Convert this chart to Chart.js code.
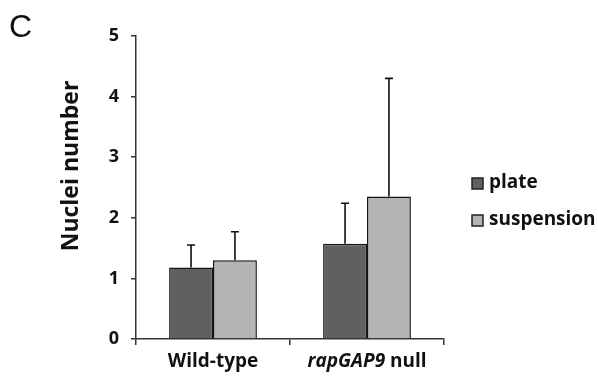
<!DOCTYPE html>
<html>
<head>
<meta charset="utf-8">
<script src="https://cdn.jsdelivr.net/npm/chart.js@4.4.0/dist/chart.umd.min.js"></script>
<style>
  html, body { margin: 0; padding: 0; background: #fff; }
  #wrap { width: 598px; height: 383px; }
</style>
</head>
<body>
<div id="wrap"><canvas id="nuclei-chart" width="598" height="383"></canvas></div>
<script>
// Values
const categories = ['Wild-type', 'rapGAP9 null'];
const italicWords = ['rapGAP9'];
const seriesNames = ['plate', 'suspension'];
const plateValues = [1.18, 1.57];
const plateErrors = [0.37, 0.67];
const suspensionValues = [1.30, 2.35];
const suspensionErrors = [0.47, 1.95];
const yTicks = [0, 1, 2, 3, 4, 5];
const yTitle = 'Nuclei number';

const FONT = '"Open Sans", "Liberation Sans", sans-serif';
const colors = ['#606060', '#b4b4b4'];

// error bars (upper only, like the original)
const errorBarPlugin = {
    id: 'errorBars',
    afterDatasetsDraw(chart) {
        const ctx = chart.ctx;
        const y = chart.scales.y;
        ctx.save();
        ctx.strokeStyle = '#111';
        ctx.lineWidth = 1.6;
        chart.data.datasets.forEach((ds, di) => {
            const meta = chart.getDatasetMeta(di);
            meta.data.forEach((bar, i) => {
                const top = y.getPixelForValue(ds.data[i] + ds.errors[i]);
                ctx.beginPath();
                ctx.moveTo(bar.x, bar.y);
                ctx.lineTo(bar.x, top);
                ctx.moveTo(bar.x - 4, top);
                ctx.lineTo(bar.x + 4, top);
                ctx.stroke();
            });
        });
        ctx.restore();
    }
};

// x labels with italic gene name, y title, legend, panel letter
const decorPlugin = {
    id: 'decor',
    afterDraw(chart) {
        const ctx = chart.ctx;
        const x = chart.scales.x;
        ctx.save();
        ctx.fillStyle = '#111';
        ctx.textBaseline = 'middle';

        // category labels
        categories.forEach((label, i) => {
            const words = label.split(' ');
            const parts = words.map((w, k) => ({
                text: (k < words.length - 1) ? w + ' ' : w,
                font: (italicWords.includes(w) ? 'italic ' : '') + 'bold 19px ' + FONT
            }));
            let total = 0;
            parts.forEach(p => { ctx.font = p.font; p.w = ctx.measureText(p.text).width; total += p.w; });
            let cx = x.getPixelForValue(i) - total / 2;
            parts.forEach(p => {
                ctx.font = p.font;
                ctx.textAlign = 'left';
                ctx.fillText(p.text, cx, 362);
                cx += p.w;
            });
        });

        // y axis title
        ctx.save();
        ctx.translate(71, 166);
        ctx.rotate(-Math.PI / 2);
        ctx.font = 'bold 23px ' + FONT;
        ctx.textAlign = 'center';
        ctx.fillText(yTitle, 0, 0);
        ctx.restore();

        // legend
        chart.data.datasets.forEach((ds, i) => {
            const ly = 184 + i * 37;
            ctx.fillStyle = ds.backgroundColor;
            ctx.fillRect(472, ly - 6, 11, 11);
            ctx.strokeStyle = '#222';
            ctx.lineWidth = 1.5;
            ctx.strokeRect(472, ly - 6, 11, 11);
            ctx.fillStyle = '#111';
            ctx.font = 'bold 19px ' + FONT;
            ctx.textAlign = 'left';
            ctx.fillText(ds.label, 489, ly - 1);
        });

        // panel letter
        ctx.font = '32px "Liberation Sans", Arial, sans-serif';
        ctx.textAlign = 'left';
        ctx.textBaseline = 'alphabetic';
        ctx.fillText('C', 9, 37);
        ctx.restore();
    }
};

new Chart(document.getElementById('nuclei-chart'), {
    type: 'bar',
    data: {
        labels: categories,
        datasets: [
            {
                label: seriesNames[0],
                data: plateValues,
                errors: plateErrors,
                backgroundColor: colors[0],
                borderColor: '#151515',
                borderWidth: 1.5
            },
            {
                label: seriesNames[1],
                data: suspensionValues,
                errors: suspensionErrors,
                backgroundColor: colors[1],
                borderColor: '#151515',
                borderWidth: 1.5
            }
        ]
    },
    options: {
        responsive: false,
        animation: false,
        layout: {
            padding: { left: 0, right: 154, top: 36, bottom: 0 }
        },
        datasets: {
            bar: { barPercentage: 1, categoryPercentage: 0.57 }
        },
        scales: {
            x: {
                offset: true,
                grid: {
                    offset: true,
                    drawOnChartArea: false,
                    color: '#333',
                    lineWidth: 1.5,
                    tickLength: 6
                },
                border: { color: '#333', width: 1.5 },
                ticks: { display: false },
                afterFit(scale) { scale.height = 44; }
            },
            y: {
                min: 0,
                max: 5,
                afterBuildTicks(scale) { scale.ticks = yTicks.map(v => ({ value: v })); },
                grid: {
                    drawOnChartArea: false,
                    color: '#333',
                    lineWidth: 1.5,
                    tickLength: 5
                },
                border: { color: '#333', width: 1.5 },
                ticks: {
                    color: '#111',
                    padding: 12,
                    font: { family: FONT, size: 18, weight: 'bold' }
                },
                afterFit(scale) { scale.width = 136; }
            }
        },
        plugins: {
            legend: { display: false },
            tooltip: { enabled: false }
        }
    },
    plugins: [errorBarPlugin, decorPlugin]
});
</script>
</body>
</html>
